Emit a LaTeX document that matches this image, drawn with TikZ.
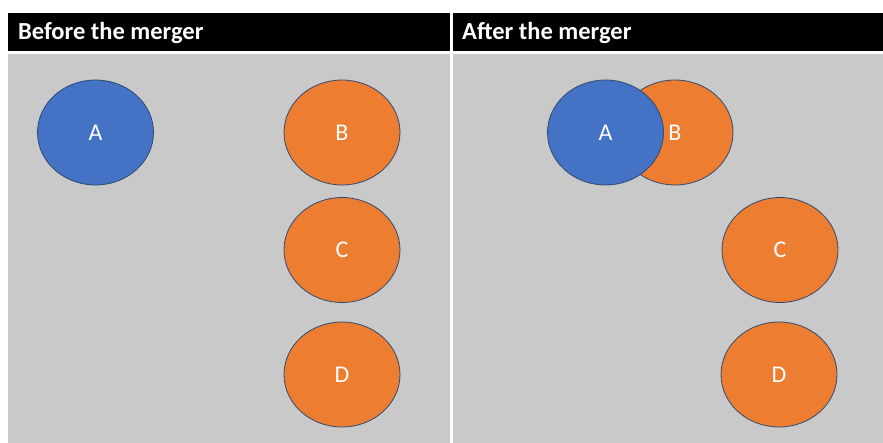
\documentclass[tikz,border=0pt]{standalone}
\usepackage{fontspec}
\setmainfont{Carlito}
\usetikzlibrary{shapes.geometric}
\definecolor{panelgray}{HTML}{C9C9C9}
\definecolor{firmblue}{HTML}{4472C4}
\definecolor{firmorange}{HTML}{ED7D31}
\definecolor{rimline}{HTML}{2F4A70}
\begin{document}
\begin{tikzpicture}[x=1pt,y=-1pt,
  headbar/.style={fill=black,draw=none},
  panel/.style={fill=panelgray,draw=none},
  headtext/.style={text=white,font=\fontsize{24.5}{28}\selectfont\bfseries,anchor=west,inner sep=0pt},
  firmtext/.style={text=white,font=\fontsize{24}{28}\selectfont},
  firm/.style={ellipse,draw=rimline,line width=0.8pt,minimum width=116pt,minimum height=105pt,inner sep=0pt,firmtext},
  bluefirm/.style={firm,fill=firmblue},
  orangefirm/.style={firm,fill=firmorange}]
\useasboundingbox (0,0) rectangle (883,443);
\fill[white] (0,0) rectangle (883,443);
% header bars
\fill[headbar] (8,13) rectangle (450,51);
\fill[headbar] (453,13) rectangle (883,51);
\node[headtext] (hbefore) at (18,32.5) {Before the merger};
\node[headtext] (hafter) at (462,32.5) {After the merger};
% panels
\fill[panel] (8,54) rectangle (450,443);
\fill[panel] (453,54) rectangle (883,443);
% before the merger
\node[bluefirm] (a1) at (95.5,132.5) {A};
\node[orangefirm] (b1) at (342,132.5) {B};
\node[orangefirm] (c1) at (342,250) {C};
\node[orangefirm] (d1) at (342,374.5) {D};
% after the merger: B sits behind A
\node[orangefirm] (b2) at (675,132.5) {};
\node[bluefirm] (a2) at (605.5,132.5) {A};
\node[firmtext,inner sep=0pt] (b2label) at (675,132.5) {B};
\node[orangefirm] (c2) at (780,250) {C};
\node[orangefirm] (d2) at (779,374.5) {D};
\end{tikzpicture}
\end{document}
